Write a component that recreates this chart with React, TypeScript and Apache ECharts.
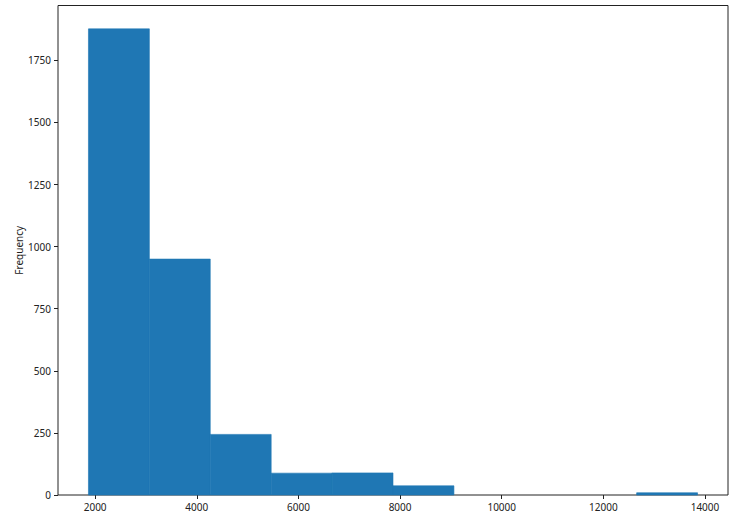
import React, { useEffect, useRef } from "react";
import * as echarts from "echarts";

const binEdges = [1868, 3067, 4265, 5464, 6662, 7861, 9060, 10258, 11457, 12655, 13854];
const counts = [1877, 950, 244, 88, 89, 37, 0, 0, 0, 9];
const xTicks = [2000, 4000, 6000, 8000, 10000, 12000, 14000];
const yTicks = [0, 250, 500, 750, 1000, 1250, 1500, 1750];
const yLabel = "Frequency";

export default function App() {
  const ref = useRef<HTMLDivElement>(null);
  useEffect(() => {
    if (!ref.current) return;
    const chart = echarts.init(ref.current, null, { renderer: "svg" });
    const data = counts.map((c, i) => [binEdges[i], binEdges[i + 1], c]);
    const font = "'Noto Sans', 'DejaVu Sans', sans-serif";
    const fmt = (v: number) => String(v);
    chart.setOption({
      animation: false,
      grid: {
        left: 58,
        right: 18,
        top: 5.5,
        bottom: 24,
        show: true,
        borderColor: "#222",
        borderWidth: 1,
        backgroundColor: "transparent",
      },
      xAxis: {
        type: "value",
        min: 1269,
        max: 14453,
        splitLine: { show: false },
        axisLine: { show: false },
        axisTick: { show: true, inside: false, length: 4, customValues: xTicks, lineStyle: { color: "#222" } },
        axisLabel: { customValues: xTicks, formatter: fmt, margin: 7, fontSize: 10, color: "#222", fontFamily: font },
      },
      yAxis: {
        type: "value",
        min: 0,
        max: 1971,
        name: yLabel,
        nameLocation: "middle",
        nameGap: 34,
        nameMoveOverlap: false,
        nameRotate: 90,
        nameTextStyle: { fontSize: 10, color: "#222", fontFamily: font },
        splitLine: { show: false },
        axisLine: { show: false },
        axisTick: { show: true, inside: false, length: 4, customValues: yTicks, lineStyle: { color: "#222" } },
        axisLabel: { customValues: yTicks, formatter: fmt, margin: 7, fontSize: 10, color: "#222", fontFamily: font },
      },
      series: [
        {
          type: "custom",
          data,
          encode: { x: [0, 1], y: 2 },
          renderItem: (params: any, api: any) => {
            const x0 = api.value(0);
            const x1 = api.value(1);
            const v = api.value(2);
            if (!v) return null;
            const p0 = api.coord([x0, v]);
            const p1 = api.coord([x1, 0]);
            return {
              type: "rect",
              shape: { x: p0[0], y: p0[1], width: p1[0] - p0[0], height: p1[1] - p0[1] },
              style: { fill: "#1f77b4", stroke: "#1f77b4", lineWidth: 0.6 },
            };
          },
        },
      ],
    });
    return () => chart.dispose();
  }, []);
  return (
    <div
      ref={ref}
      style={{ position: "fixed", left: 0, top: 0, width: 746, height: 519, background: "#fff" }}
    />
  );
}
